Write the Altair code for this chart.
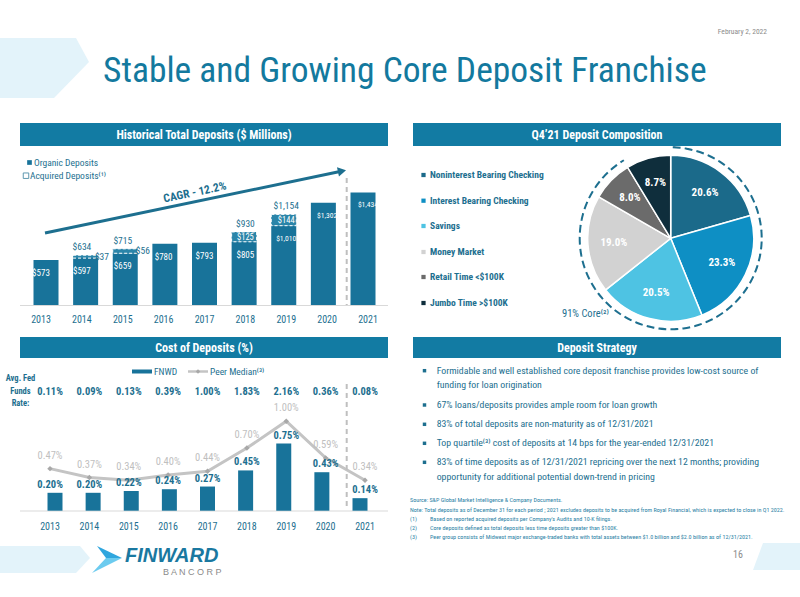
import altair as alt
import pandas as pd

# ---------------- data ----------------
years = [2013, 2014, 2015, 2016, 2017, 2018, 2019, 2020, 2021]
organic_deposits = [573, 597, 659, 780, 793, 805, 1010, 1302, 1434]
acquired_deposits = [0, 37, 56, 0, 0, 125, 144, 0, 0]

deposit_types = ["Noninterest Bearing Checking", "Interest Bearing Checking", "Savings",
                 "Money Market", "Retail Time <$100K", "Jumbo Time >$100K"]
deposit_shares = [20.6, 23.3, 20.5, 19.0, 8.0, 8.7]
non_core_types = ["Jumbo Time >$100K"]

fnwd_cost = [0.20, 0.20, 0.22, 0.24, 0.27, 0.45, 0.75, 0.43, 0.14]
peer_median_cost = [0.47, 0.37, 0.34, 0.40, 0.44, 0.70, 1.00, 0.59, 0.34]
fed_funds_rate = [0.11, 0.09, 0.13, 0.39, 1.00, 1.83, 2.16, 0.36, 0.08]

strategy_bullets = [
    ["Formidable and well established core deposit franchise provides low-cost source of",
     "funding for loan origination"],
    ["67% loans/deposits provides ample room for loan growth"],
    ["83% of total deposits are non-maturity as of 12/31/2021"],
    ["Top quartile⁽³⁾ cost of deposits at 14 bps for the year-ended 12/31/2021"],
    ["83% of time deposits as of 12/31/2021 repricing over the next 12 months; providing",
     "opportunity for additional potential down-trend in pricing"],
]
footnotes = [
    ("", "Source: S&P Global Market Intelligence & Company Documents."),
    ("", "Note: Total deposits as of December 31 for each period ; 2021 excludes deposits to be acquired from Royal Financial, which is expected to close in Q1 2022."),
    ("(1)", "Based on reported acquired deposits per Company's Audits and 10-K filings."),
    ("(2)", "Core deposits defined as total deposits less time deposits greater than $100K."),
    ("(3)", "Peer group consists of Midwest major exchange-traded banks with total assets between $1.0 billion and $2.0 billion as of 12/31/2021."),
]

# ---------------- styles ----------------
FONT = "Roboto Condensed, Roboto, sans-serif"
HEADER = "#127BA3"
BAR = "#18739A"
TEAL = "#1D6F8F"
TITLE = "#13799E"
LIGHT = "#E3F3FA"
GRAY_TXT = "#8C8C8C"
PIE_COLORS = ["#1B6A8A", "#0E8FC4", "#4EC3E3", "#D2D2D2", "#6B6B6B", "#0F2E3C"]

ONE = alt.Data(values=[{"a": 1}])
layers = []


def label(text, x, y, size, color=TEAL, weight="normal", align="left", angle=0,
          font=FONT, style="normal", baseline="middle"):
    kw = dict(text=text, fontSize=size, color=color, fontWeight=weight, align=align,
              font=font, fontStyle=style, baseline=baseline)
    if angle:
        kw["angle"] = angle
    return alt.Chart(ONE).mark_text(**kw).encode(x=alt.value(x), y=alt.value(y))


def poly(points, color):
    xs = [p[0] for p in points]
    ys = [p[1] for p in points]
    cx, cy = (min(xs) + max(xs)) / 2, (min(ys) + max(ys)) / 2
    s = max(max(xs) - min(xs), max(ys) - min(ys))
    path = "M" + "L".join(f"{(x - cx) / (s / 2):.4f},{(y - cy) / (s / 2):.4f}" for x, y in points) + "Z"
    return alt.Chart(ONE).mark_point(shape=path, size=s * s, filled=True, color=color,
                                      opacity=1, strokeWidth=0).encode(
        x=alt.value(cx), y=alt.value(cy))


def box(x0, x1, y0, y1, color):
    return alt.Chart(ONE).mark_rect(color=color).encode(
        x=alt.value(x0), x2=alt.value(x1), y=alt.value(y0), y2=alt.value(y1))


# ---------------- page decoration ----------------
layers.append(poly([(0, 38), (76, 38), (89, 62), (54, 98), (0, 98)], LIGHT))
layers.append(poly([(0, 546), (80, 546), (90, 558), (76, 573), (0, 573)], LIGHT))
layers.append(poly([(763, 543), (800, 543), (800, 570), (753, 570)], LIGHT))
layers.append(label("February 2, 2022", 767, 32, 7.5, GRAY_TXT, align="right"))
layers.append(label("Stable and Growing Core Deposit Franchise", 103, 71, 35.5, TITLE))
layers.append(label("16", 738, 555, 10, GRAY_TXT, align="center"))
# logo
layers.append(poly([(97, 546), (122, 558), (106, 558)], "#2FA6DE"))
layers.append(poly([(106, 558), (122, 558), (92, 573)], "#6CCBEF"))
layers.append(label("FINWARD", 125, 556, 20, "#1A78A0", weight="bold", style="italic",
                    font="Liberation Sans, Arial, sans-serif"))
layers.append(label("B A N C O R P", 163, 572, 9, "#8A8A8A", font="Liberation Sans, Arial, sans-serif"))

# ---------------- headers ----------------
for (x0, x1, y0, y1, txt) in [(20, 388, 123, 146, "Historical Total Deposits ($ Millions)"),
                              (413, 781, 123, 146, "Q4’21 Deposit Composition"),
                              (20, 388, 337, 358, "Cost of Deposits (%)"),
                              (413, 781, 337, 358, "Deposit Strategy")]:
    layers.append(box(x0, x1, y0, y1, HEADER))
    layers.append(label(txt, (x0 + x1) / 2, (y0 + y1) / 2 + 0.5, 12, "white", weight="bold", align="center"))

# ---------------- historical deposits bars ----------------
dep = pd.DataFrame({"year": years, "organic": organic_deposits, "acquired": acquired_deposits})
bx = alt.Scale(domain=[2013, 2021], range=[41, 368], nice=False, zero=False)
by = alt.Scale(domain=[0, 1434], range=[305, 192.4], nice=False)
dbase = alt.Chart(dep).transform_calculate(
    total="datum.organic + datum.acquired",
    mid="datum.organic + datum.acquired / 2")
BX = alt.X("year:Q", scale=bx, axis=None)

layers.append(alt.Chart(ONE).mark_rule(color="#D9D9D9", strokeWidth=1).encode(
    x=alt.value(20), x2=alt.value(388), y=alt.value(305.5)))
layers.append(dbase.mark_bar(size=25, color=BAR).encode(
    x=BX, y=alt.Y("organic:Q", scale=by, axis=None)))
layers.append(dbase.transform_filter("datum.acquired > 0").mark_bar(
    size=25, color="#2B85A9", stroke="white", strokeDash=[3, 2], strokeWidth=1).encode(
    x=BX, y=alt.Y("organic:Q", scale=by, axis=None), y2="total:Q"))
# organic values inside the bars (4-digit values a little smaller so they stay inside)
layers.append(dbase.transform_filter("datum.organic < 1000").mark_text(
    color="white", fontSize=9, font=FONT, dy=13).encode(
    x=BX, y=alt.Y("organic:Q", scale=by, axis=None),
    text=alt.Text("organic:Q", format="$,.0f")))
layers.append(dbase.transform_filter("datum.organic >= 1000").mark_text(
    color="white", fontSize=7.6, font=FONT, dy=13).encode(
    x=BX, y=alt.Y("organic:Q", scale=by, axis=None),
    text=alt.Text("organic:Q", format="$,.0f")))
layers.append(dbase.transform_filter("datum.acquired > 0").mark_text(
    color=TEAL, fontSize=9.5, font=FONT, dy=-8).encode(
    x=BX, y=alt.Y("total:Q", scale=by, axis=None),
    text=alt.Text("total:Q", format="$,.0f")))
layers.append(dbase.transform_filter("datum.acquired >= 100").mark_text(
    color="white", fontSize=8.5, font=FONT).encode(
    x=BX, y=alt.Y("mid:Q", scale=by, axis=None),
    text=alt.Text("acquired:Q", format="$,.0f")))
layers.append(dbase.transform_filter("datum.acquired > 0 && datum.acquired < 100").mark_text(
    color=TEAL, fontSize=9.5, font=FONT, align="left", dx=13, dy=2).encode(
    x=BX, y=alt.Y("total:Q", scale=by, axis=None),
    text=alt.Text("acquired:Q", format="$,.0f")))
layers.append(dbase.mark_text(color=TEAL, fontSize=10, font=FONT).encode(
    x=BX, y=alt.value(320), text="year:N"))
layers.append(alt.Chart(ONE).mark_rule(color="#BFBFBF", strokeWidth=2, strokeDash=[5, 4]).encode(
    x=alt.value(346.7), y=alt.value(178), y2=alt.value(305)))
# CAGR arrow
layers.append(alt.Chart(ONE).mark_rule(color=TEAL, strokeWidth=3).encode(
    x=alt.value(45), y=alt.value(233), x2=alt.value(340), y2=alt.value(171.5)))
layers.append(alt.Chart(ONE).mark_point(shape="triangle-right", size=90, filled=True, color=TEAL,
                                        opacity=1, angle=348).encode(
    x=alt.value(342), y=alt.value(171)))
layers.append(label("CAGR - 12.2%", 195, 193, 11.5, TEAL, weight="bold", align="center", angle=348))
# legend
layers.append(alt.Chart(ONE).mark_square(size=22, color=BAR, opacity=1).encode(
    x=alt.value(29.5), y=alt.value(162.5)))
layers.append(label("Organic Deposits", 34, 162.5, 9.5, TEAL))
layers.append(alt.Chart(ONE).mark_square(size=30, filled=False, color=TEAL, strokeWidth=1).encode(
    x=alt.value(26), y=alt.value(175.7)))
layers.append(label("Acquired Deposits⁽¹⁾", 30, 175.7, 9.5, TEAL))

# ---------------- deposit composition pie ----------------
pie = pd.DataFrame({"type": deposit_types, "share": deposit_shares,
                    "idx": list(range(len(deposit_types)))})
PCX, PCY = 670.7, 238.3
RING_R = 91
pcolor = alt.Color("type:N", scale=alt.Scale(domain=deposit_types, range=PIE_COLORS), legend=None)
layers.append(alt.Chart(pie).mark_arc(radius=83, stroke="white", strokeWidth=1.5).encode(
    theta=alt.Theta("share:Q", stack=True), color=pcolor, order=alt.Order("idx:Q"),
    x=alt.value(PCX), y=alt.value(PCY)))
layers.append(alt.Chart(pie).transform_calculate(
    lbl="format(datum.share, '.1f') + '%'").mark_text(
    radius=57, color="white", fontSize=11, fontWeight="bold", font=FONT).encode(
    theta=alt.Theta("share:Q", stack=True), order=alt.Order("idx:Q"),
    text="lbl:N", x=alt.value(PCX), y=alt.value(PCY)))
# dashed ring around the core share; dash offset chosen so the arc's two traced
# edges (outer and inner, same radius) put their dashes on top of each other
core_share = sum(s for t, s in zip(deposit_types, deposit_shares) if t not in non_core_types)
ring_len = core_share / 100 * 2 * 3.141592653589793 * RING_R
DASH_ON, DASH_P = 7, 12
dash_off = ((DASH_ON - 2 * ring_len) % DASH_P) / 2
core_chart = alt.Chart(pie).transform_filter(
    {"not": alt.FieldOneOfPredicate(field="type", oneOf=non_core_types)}).transform_aggregate(
    core="sum(share)")
layers.append(core_chart.mark_arc(radius=RING_R, radius2=RING_R, fill="transparent", stroke=TEAL,
                                  strokeWidth=2, strokeDash=[DASH_ON, DASH_P - DASH_ON],
                                  strokeDashOffset=dash_off).encode(
    theta=alt.Theta("core:Q", stack=True, scale=alt.Scale(domain=[0, 100])),
    x=alt.value(PCX), y=alt.value(PCY)))
layers.append(label("91% Core⁽²⁾", 562, 314, 10.5, TEAL))
# pie legend
leg_y = [175, 200.7, 226, 252, 277, 303]
for t, c, yy in zip(deposit_types, PIE_COLORS, leg_y):
    layers.append(alt.Chart(ONE).mark_square(size=18, color=c, opacity=1).encode(
        x=alt.value(423.5), y=alt.value(yy)))
    layers.append(label(t, 430, yy, 9.5, TEAL, weight="bold"))

# ---------------- cost of deposits ----------------
cost = pd.DataFrame({"year": years, "fnwd": fnwd_cost, "peer": peer_median_cost, "fed": fed_funds_rate})
cx = alt.Scale(domain=[2013, 2021], range=[50, 365], nice=False, zero=False)
cy = alt.Scale(domain=[0, 1], range=[510.7, 421.2], nice=False)
cbase = alt.Chart(cost).transform_calculate(
    peer_lbl="format(datum.peer, '.2f') + '%'",
    fnwd_lbl="format(datum.fnwd, '.2f') + '%'",
    fed_lbl="format(datum.fed, '.2f') + '%'")
CX = alt.X("year:Q", scale=cx, axis=None)
layers.append(alt.Chart(ONE).mark_rule(color="#D9D9D9", strokeWidth=1).encode(
    x=alt.value(20), x2=alt.value(388), y=alt.value(511)))
layers.append(cbase.mark_bar(size=15, color=BAR).encode(
    x=CX, y=alt.Y("fnwd:Q", scale=cy, axis=None)))
layers.append(cbase.mark_line(color="#C4C4C4", strokeWidth=3).encode(
    x=CX, y=alt.Y("peer:Q", scale=cy, axis=None)))
layers.append(cbase.mark_point(shape="diamond", size=30, filled=True, color="#A8A8A8", opacity=1).encode(
    x=CX, y=alt.Y("peer:Q", scale=cy, axis=None)))
layers.append(cbase.mark_text(color="#BFBFBF", fontSize=10.5, font=FONT, dy=-13).encode(
    x=CX, y=alt.Y("peer:Q", scale=cy, axis=None), text="peer_lbl:N"))
layers.append(cbase.mark_text(color=TEAL, fontSize=10.5, font=FONT, fontWeight="bold", dy=-8).encode(
    x=CX, y=alt.Y("fnwd:Q", scale=cy, axis=None), text="fnwd_lbl:N"))
layers.append(cbase.mark_text(color=TEAL, fontSize=10.5, font=FONT, fontWeight="bold").encode(
    x=CX, y=alt.value(391.7), text="fed_lbl:N"))
layers.append(cbase.mark_text(color=TEAL, fontSize=10, font=FONT).encode(
    x=CX, y=alt.value(527), text="year:N"))
layers.append(alt.Chart(ONE).mark_rule(color="#BFBFBF", strokeWidth=2, strokeDash=[5, 4]).encode(
    x=alt.value(346.7), y=alt.value(384), y2=alt.value(510)))
for t, yy in zip(["Avg. Fed", "Funds", "Rate:"], [378.3, 390.5, 402.7]):
    layers.append(label(t, 20.5, yy, 8.5, TEAL, weight="bold", align="center"))
# legend
layers.append(alt.Chart(ONE).mark_rule(color=BAR, strokeWidth=4).encode(
    x=alt.value(132), x2=alt.value(152), y=alt.value(371.5)))
layers.append(label("FNWD", 154, 371.5, 9.5, TEAL))
layers.append(alt.Chart(ONE).mark_rule(color="#C4C4C4", strokeWidth=2.5).encode(
    x=alt.value(188), x2=alt.value(208), y=alt.value(371.5)))
layers.append(alt.Chart(ONE).mark_point(shape="diamond", size=20, filled=True, color="#A8A8A8",
                                        opacity=1).encode(x=alt.value(198), y=alt.value(371.5)))
layers.append(label("Peer Median⁽³⁾", 210, 371.5, 9.5, TEAL))

# ---------------- deposit strategy ----------------
line_y = [[370.7, 385], [405], [424.3], [443.3], [462.3, 476.7]]
for lines, ys in zip(strategy_bullets, line_y):
    layers.append(alt.Chart(ONE).mark_square(size=12, color=TEAL, opacity=1).encode(
        x=alt.value(424.5), y=alt.value(ys[0])))
    for t, yy in zip(lines, ys):
        layers.append(label(t, 436.7, yy, 9.8, TEAL))

# ---------------- footnotes ----------------
for (num, t), yy in zip(footnotes, [500, 509.5, 518.8, 528, 537.2]):
    if num:
        layers.append(label(num, 410, yy, 6.1, "#2A7FA5"))
        layers.append(label(t, 430, yy, 6.1, "#2A7FA5"))
    else:
        layers.append(label(t, 410, yy, 6.1, "#2A7FA5"))

chart = alt.layer(*layers).resolve_scale(
    x="independent", y="independent", color="independent", theta="independent"
).properties(
    width=800, height=597, autosize=alt.AutoSizeParams(type="none"), padding=0, background="white"
).configure_view(stroke=None)

chart.save("out.html", embed_options={"renderer": "svg", "actions": False})
